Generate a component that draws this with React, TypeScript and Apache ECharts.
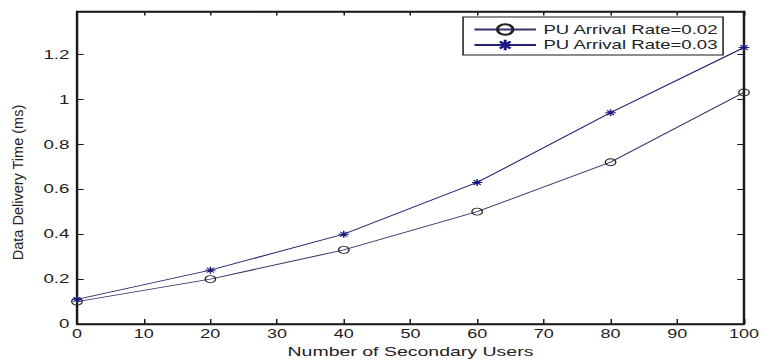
import React, { useEffect, useRef } from "react";
import * as echarts from "echarts";

const xValues = [0, 20, 40, 60, 80, 100];
const rate002 = [0.1, 0.2, 0.33, 0.5, 0.72, 1.03];
const rate003 = [0.11, 0.24, 0.4, 0.63, 0.94, 1.23];
const seriesNames = ["PU Arrival Rate=0.02", "PU Arrival Rate=0.03"];
const xAxisTitle = "Number of Secondary Users";
const yAxisTitle = "Data Delivery Time (ms)";

const STRETCH = 1.5;
const W = 763;
const H = 363;
const FONT = "'Liberation Sans', Arial, Helvetica, sans-serif";
const STAR = "path://M0 5L10 5M5 0L5 10M1.6 1.6L8.4 8.4M8.4 1.6L1.6 8.4";
const RING = "path://M5 0A5 5 0 1 1 5 10A5 5 0 1 1 5 0Z";

export default function App() {
  const ref = useRef<HTMLDivElement>(null);
  useEffect(() => {
    if (!ref.current) return;
    const chart = echarts.init(ref.current, null, { renderer: "svg" });
    const toPairs = (ys: number[]) => xValues.map((x, i) => [x, ys[i]]);
    const mkLine = (w: number) => ({ show: true, onZero: false, lineStyle: { color: "#1a1a1a", width: w } });
    const xBase = () => ({ type: "value" as const, min: 0, max: 100, interval: 10, splitLine: { show: false } });
    const yBase = () => ({ type: "value" as const, min: 0, max: 1.39, interval: 0.2, splitLine: { show: false } });
    chart.setOption({
      animation: false,
      backgroundColor: "#fff",
      grid: {
        left: 51.3, right: 11.5, top: 11.5, bottom: 36.3, containLabel: false,
        show: true, borderColor: "#1a1a1a", borderWidth: 1.5, backgroundColor: "transparent",
      },
      xAxis: [
        {
          ...xBase(),
          position: "bottom",
          axisLine: mkLine(1.3),
          axisTick: { show: true, inside: true, length: 5, lineStyle: { color: "#1a1a1a" } },
          axisLabel: { margin: 4, fontSize: 12, fontFamily: FONT, color: "#222" },
          name: xAxisTitle,
          nameLocation: "middle",
          nameGap: 18,
          nameTextStyle: { fontSize: 13, fontFamily: FONT, color: "#222" },
        },
        {
          ...xBase(),
          position: "top",
          axisLine: mkLine(1.5),
          axisTick: { show: true, inside: true, length: 4, lineStyle: { color: "#1a1a1a" } },
          axisLabel: { show: false },
        },
      ],
      yAxis: [
        {
          ...yBase(),
          position: "left",
          axisLine: mkLine(1.3),
          axisTick: { show: true, inside: true, length: 4.5, lineStyle: { color: "#1a1a1a" } },
          axisLabel: { margin: 5, fontSize: 12.5, fontFamily: FONT, color: "#222", showMaxLabel: false,
            formatter: (v: number) => String(Math.round(v * 10) / 10) },
        },
        {
          ...yBase(),
          position: "right",
          axisLine: mkLine(1.5),
          axisTick: { show: true, inside: true, length: 4.5, lineStyle: { color: "#1a1a1a" } },
          axisLabel: { show: false },
        },
      ],
      legend: {
        orient: "vertical",
        left: 308.7,
        top: 17,
        padding: [6, 3, 3.5, 6.6],
        itemWidth: 41,
        itemHeight: 13,
        itemGap: 2.5,
        borderColor: "#1a1a1a",
        borderWidth: 1,
        backgroundColor: "#fff",
        textStyle: { fontSize: 12.4, fontFamily: FONT, color: "#222", lineHeight: 13 },
        data: seriesNames,
      },
      graphic: [
        {
          type: "text",
          x: 12,
          y: 182.5,
          rotation: Math.PI / 2,
          scaleX: 1.45,
          style: { text: yAxisTitle, fontSize: 10, fontFamily: FONT, fill: "#222", align: "center", verticalAlign: "middle" },
        },
      ],
      series: [
        {
          name: seriesNames[0],
          type: "line",
          data: toPairs(rate002),
          symbol: RING,
          symbolSize: 7,
          showAllSymbol: true,
          lineStyle: { color: "#34346a", width: 1 },
          itemStyle: { color: "rgba(255,255,255,0)", borderColor: "#222", borderWidth: 0.9 },
        },
        {
          name: seriesNames[1],
          type: "line",
          data: toPairs(rate003),
          symbol: STAR,
          symbolSize: 7,
          showAllSymbol: true,
          lineStyle: { color: "#24246e", width: 1 },
          itemStyle: { color: "#1a1a80", borderColor: "#1a1a80", borderWidth: 1 },
        },
      ],
    });
    return () => chart.dispose();
  }, []);
  return (
    <div style={{ position: "absolute", left: 0, top: 0, width: W, height: H, overflow: "hidden", background: "#fff" }}>
      <div
        ref={ref}
        style={{ width: W / STRETCH, height: H, transform: `scaleX(${STRETCH})`, transformOrigin: "0 0" }}
      />
    </div>
  );
}
